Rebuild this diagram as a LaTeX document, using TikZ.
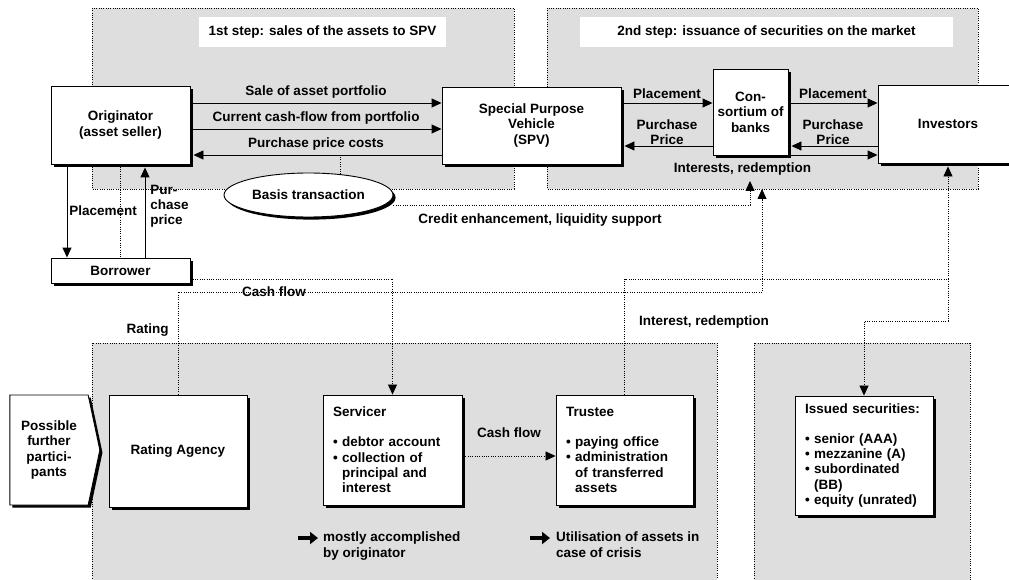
\documentclass[tikz,border=0pt]{standalone}
\usepackage{fontspec}
\setmainfont{Liberation Sans}
\usetikzlibrary{shapes,shadows,arrows.meta,positioning,calc}
\definecolor{panelgray}{HTML}{DEDEDE}

\begin{document}
\begin{tikzpicture}[x=1pt, y=-1pt, >={Triangle[length=10pt,width=9pt]}]

      \tikzset{
            every node/.style = {font=\bfseries\fontsize{13.5}{15.4}\selectfont, inner sep=1pt},
            box/.style = {draw, fill=white, line width=0.9pt, align=center,
                  drop shadow={shadow xshift=2.6pt, shadow yshift=-2.6pt, fill=black, opacity=1}},
            sz/.style 2 args = {minimum width=#1pt, minimum height=#2pt},
            flow/.style = {line width=0.9pt},
            dots/.style = {line width=0.8pt, dash pattern=on 1pt off 1.3pt, black},
            fatarrow/.style = {line width=4.5pt, -{Triangle[length=8pt,width=12pt]}}
      };

      \useasboundingbox (0,0) rectangle (1009,580);
      \clip (0,0) rectangle (1009,580);

      % Draw the grey panels
      \fill[panelgray] (92,8) rectangle (514,189);
      \draw[dots] (92,8) rectangle (514,189);
      \fill[panelgray] (547,8) rectangle (978,189);
      \draw[dots] (547,8) rectangle (978,189);
      \fill[panelgray] (92,343) rectangle (717,590);
      \draw[dots] (92,590) -- (92,343) -- (717,343) -- (717,590);
      \fill[panelgray] (754,343) rectangle (970,590);
      \draw[dots] (754,590) -- (754,343) -- (970,343) -- (970,590);

      % Panel titles
      \node[fill=white, sz={247}{30}] (step1) at (322.5,32) {1st step: sales of the assets to SPV};
      \node[fill=white, sz={373}{30}] (step2) at (766.5,32) {2nd step: issuance of securities on the market};

      % Parties of the transaction
      \node[box, sz={139}{78}] (orig) at (120.5,125) {Originator\\(asset seller)};
      \node[box, sz={179}{77}] (spv) at (531.5,125.5) {Special Purpose\\Vehicle\\(SPV)};
      \node[box, sz={75}{86}] (cons) at (750.5,112) {Con-\\sortium of\\banks};
      \node[box, sz={140}{78}] (inv) at (948,124) {Investors};
      \node[box, sz={139}{25}] (borr) at (120.5,270.5) {Borrower};
      \node[box, ellipse, sz={169}{44}] (basis) at (308.5,195) {Basis transaction};

      % Possible further participants
      \node[box, signal, signal to=east, signal from=nowhere, signal pointer angle=156,
            sz={90}{110}] (further) at (49,450) {Possible\\further\\partici-\\pants};
      \node[box, sz={138}{112}] (rating) at (178,451) {Rating Agency};
      \node[box, sz={139}{110}, text width=119pt, inner xsep=10pt, align=left] (serv) at (392.5,450)
            {Servicer\\[14.6pt]
             \textbullet\ debtor account\\
             \textbullet\ collection of\\
             \hphantom{\textbullet\ }principal and\\
             \hphantom{\textbullet\ }interest};
      \node[box, sz={137}{110}, text width=117pt, inner xsep=10pt, align=left] (trust) at (624.5,450)
            {Trustee\\[14.6pt]
             \textbullet\ paying office\\
             \textbullet\ administration\\
             \hphantom{\textbullet\ }of transferred\\
             \hphantom{\textbullet\ }assets};
      \node[box, sz={138}{119}, text width=118pt, inner xsep=10pt, align=left] (issued) at (864,455.5)
            {Issued securities:\\[14.6pt]
             \textbullet\ senior (AAA)\\
             \textbullet\ mezzanine (A)\\
             \textbullet\ subordinated\\
             \hphantom{\textbullet\ }(BB)\\
             \textbullet\ equity (unrated)};

      % Rows of the arrows
      \coordinate (r1) at (0,103);
      \coordinate (r2) at (0,129);
      \coordinate (r3) at (0,155);
      \coordinate (r4) at (0,146);
      \coordinate (xpl) at (67,0);
      \coordinate (xpp) at (145,0);

      % 1st step: originator <-> SPV
      \draw[flow, ->, shorten <=3pt] (orig.east |- r1) -- (spv.west |- r1)
            node[midway, above=3pt] (l1) {Sale of asset portfolio};
      \draw[flow, ->, shorten <=3pt] (orig.east |- r2) -- (spv.west |- r2)
            node[midway, above=3pt] (l2) {Current cash-flow from portfolio};
      \draw[flow, <-, shorten >=0pt, shorten <=3pt] (orig.east |- r3) -- (spv.west |- r3)
            node[midway, above=3pt] (l3) {Purchase price costs};

      % 2nd step: SPV <-> consortium <-> investors
      \draw[flow, ->, shorten <=3pt] (spv.east |- r1) -- (cons.west |- r1)
            node[midway, above=3pt] (l4) {Placement};
      \draw[flow, <-, shorten <=3pt] (spv.east |- r4) -- (cons.west |- r4)
            node[midway, above=0pt, align=center] (l5) {Purchase\\Price};
      \draw[flow, ->, shorten <=3pt] (cons.east |- r1) -- (inv.west |- r1)
            node[midway, above=3pt] (l6) {Placement};
      \draw[flow, <-, shorten <=3pt] (cons.east |- r4) -- (inv.west |- r4)
            node[midway, above=0pt, align=center] (l7) {Purchase\\Price};
      \draw[flow, ->, shorten <=3pt] (cons.east |- r3) -- (inv.west |- r3);
      \node[below=6pt of cons.south, xshift=-8pt] (intr) {Interests, redemption};

      % Originator <-> borrower
      \draw[flow, ->, shorten <=3pt] (orig.south -| xpl) -- (borr.north -| xpl)
            node[midway, right=1pt] (l8) {Placement};
      \draw[flow, ->, shorten >=3pt] (borr.north -| xpp) -- (orig.south -| xpp)
            node[pos=0.55, right=4pt, align=left] (l9) {Pur-\\chase\\price};
      \draw[dots] (orig.south) -- (borr.north);

      % Dotted links
      \coordinate (cfrow) at (0,279);
      \coordinate (rtrow) at (0,292);
      \coordinate (cerow) at (0,205);
      \coordinate (isrow) at (0,321);
      \coordinate (scrow) at (0,456);
      \coordinate (rtTip) at (762,189);
      \coordinate (ceTip) at (750,181);

      \draw[dots] (basis.33) -- (basis.33 |- r3);
      \draw[dots, ->] (basis.east |- cerow) -| (ceTip);
      \node (celbl) at (540,220) {Credit enhancement, liquidity support};

      \draw[dots, ->] (borr.east |- cfrow) -| (serv.north);
      \draw[dots, ->] (rating.north) -- node[pos=0.63, left=8pt] (ratlbl) {Rating} (rating.north |- rtrow) -| (rtTip);
      \node (cflbl) at (274,292) {Cash flow};

      \draw[dots, ->, shorten >=3pt] (trust.north) |- (inv.south |- cfrow) -- (inv.south);
      \draw[dots, ->] (inv.south |- cfrow) -- (inv.south |- isrow) -| (issued.north);
      \node (irlbl) at (704,322) {Interest, redemption};

      \draw[dots, ->, shorten <=3pt] (serv.east |- scrow) -- (trust.west |- scrow)
            node[midway, above=17pt] (l10) {Cash flow};

      % Notes under servicer and trustee
      \node[anchor=north west, align=left] (note1) at (322,531) {mostly accomplished\\by originator};
      \node[anchor=north west, align=left] (note2) at (555,531) {Utilisation of assets in\\case of crisis};
      \draw[fatarrow] ([xshift=-24pt, yshift=-7pt]note1.north west) -- ++(20,0);
      \draw[fatarrow] ([xshift=-25pt, yshift=-7pt]note2.north west) -- ++(20,0);

\end{tikzpicture}
\end{document}
